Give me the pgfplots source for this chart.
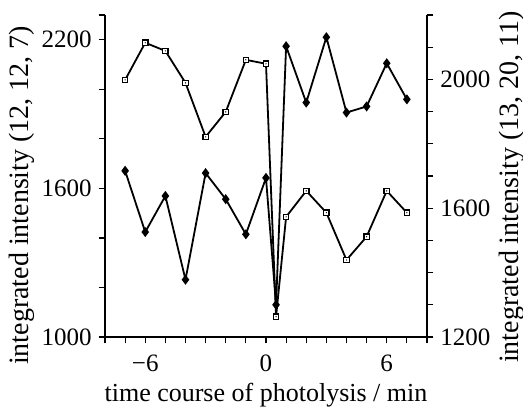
\documentclass[border=0pt]{standalone}
\usepackage{fontspec}
\setmainfont{Liberation Serif}
\usepackage{pgfplots}
\pgfplotsset{compat=1.18}

% open square with a dot in the middle
\pgfdeclareplotmark{dotsquare}{%
  \pgfpathrectangle{\pgfqpoint{-\pgfplotmarksize}{-\pgfplotmarksize}}{\pgfqpoint{2\pgfplotmarksize}{2\pgfplotmarksize}}%
  \pgfusepathqfillstroke
  \begin{pgfscope}
  \pgfsetfillcolor{black}%
  \pgfpathcircle{\pgfpointorigin}{0.35pt}%
  \pgfusepathqfill
  \end{pgfscope}}

\pgfplotsset{
  base/.style={
    scale only axis, width=161pt, height=161pt,
    xmin=-8, xmax=8,
    tick align=outside,
    major tick length=3.2pt, minor tick length=3.2pt,
    axis line style={line width=0.6pt},
    every tick/.style={line width=0.6pt, black},
    /pgf/number format/assume math mode=true,
    /pgf/number format/1000 sep={},
    tick label style={font=\fontsize{12.5}{14}\selectfont},
    xlabel style={font=\fontsize{13}{15}\selectfont},
    ylabel style={font=\fontsize{14}{16}\selectfont},
  },
}

\begin{document}
\begin{tikzpicture}
\path[use as bounding box] (-52.5pt,-37pt) rectangle (209pt,168.5pt);

% left axis: (12, 12, 7)
\begin{axis}[base,
  axis x line*=bottom, axis y line*=left,
  ymin=1000, ymax=2300,
  xtick={-6,0,6}, xticklabels={−6,0,6},
  xticklabel style={yshift=-2pt},
  minor xtick={-8,-7,-5,-4,-3,-2,-1,1,2,3,4,5,7,8},
  ytick={1000,1600,2200},
  minor ytick={1200,1400,1800,2000,2300},
  xlabel={time course of photolysis / min},
  xlabel style={at={(axis description cs:0.5,-0.18)}, anchor=center},
  ylabel={integrated intensity (12, 12, 7)},
  ylabel style={at={(axis description cs:-0.258,0.44)}, anchor=center},
]
\addplot[black, line width=0.9pt, mark=dotsquare, mark size=1.35pt,
  mark options={solid, fill=white, line width=0.6pt}]
  coordinates {
  (-7,2038) (-6,2188) (-5,2155) (-4,2026) (-3,1808) (-2,1909) (-1,2119)
  (0,2103) (0.5,1082) (1,1485) (2,1590) (3,1502) (4,1311) (5,1405)
  (6,1590) (7,1502)};
\end{axis}

% right axis: (13, 20, 11)
\begin{axis}[base,
  axis x line=none, axis y line*=right,
  ymin=1200, ymax=2200,
  ytick={1200,1600,2000},
  minor ytick={1300,1400,1500,1700,1800,1900,2100,2200},
  ylabel={integrated intensity (13, 20, 11)},
  ylabel style={at={(axis description cs:1.265,0.466)}, anchor=center},
]
\addplot[black, line width=0.9pt, mark=diamond*, mark size=1.8pt,
  mark options={solid, fill=black}]
  coordinates {
  (-7,1716) (-6,1526) (-5,1638) (-4,1378) (-3,1709) (-2,1628) (-1,1519)
  (0,1694) (0.5,1300) (1,2103) (2,1928) (3,2131) (4,1897) (5,1916)
  (6,2050) (7,1938)};
\end{axis}
\end{tikzpicture}
\end{document}
